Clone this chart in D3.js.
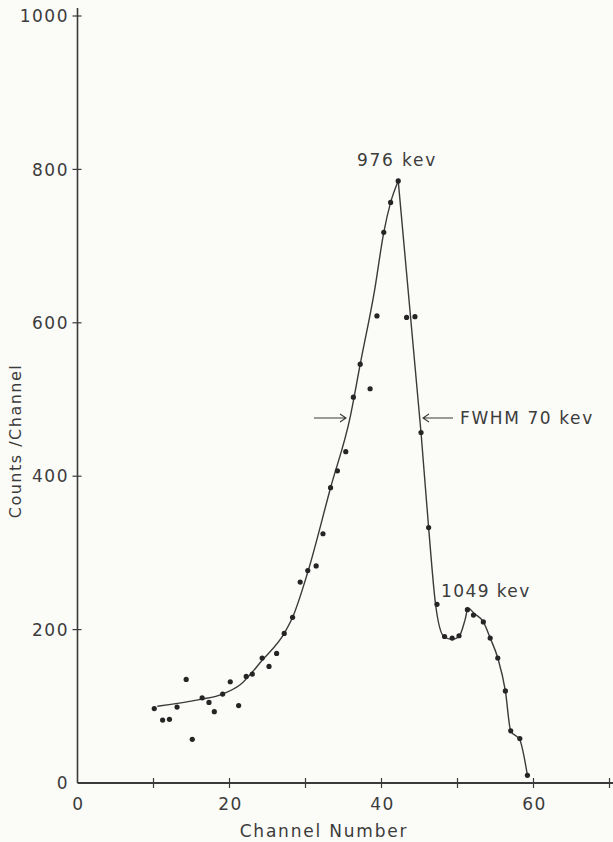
<!DOCTYPE html>
<html>
<head>
<meta charset="utf-8">
<script src="https://d3js.org/d3.v7.min.js"></script>
<style>
body { margin: 0; background: #fbfbf8; }
svg text { font-family: "DejaVu Sans", sans-serif; fill: #3c3c3c; letter-spacing: 1.5px; }
</style>
</head>
<body>
<svg id="chart"></svg>
<script>
var channels = [10.1, 11.2, 12.1, 13.1, 14.3, 15.1, 16.4, 17.3, 18.0, 19.1,
                20.1, 21.2, 22.2, 23.0, 24.3, 25.2, 26.2, 27.2, 28.3, 29.3,
                30.3, 31.4, 32.3, 33.3, 34.2, 35.3, 36.3, 37.2, 38.5, 39.4,
                40.3, 41.2, 42.2, 43.3, 44.4, 45.2, 46.2, 47.3, 48.3, 49.3,
                50.2, 51.3, 52.1, 53.4, 54.3, 55.3, 56.3, 57.0, 58.2, 59.2];
var counts = [97, 82, 83, 99, 135, 57, 111, 105, 93, 116,
              132, 101, 139, 142, 163, 152, 169, 195, 216, 262,
              277, 283, 325, 385, 407, 432, 503, 546, 514, 609,
              718, 757, 785, 607, 608, 457, 333, 233, 191, 189,
              192, 226, 219, 210, 189, 163, 120, 68, 58, 10];

// hand-drawn curve, rising side up to the peak
var riseCh  = [10.5, 16.2, 19.1, 21.4, 24.3, 27.2, 28.3, 30.3, 33.3, 35.9, 37.2, 39.1, 40.3, 41.2, 42.2];
var riseVal = [100, 109, 116, 128, 160, 195, 216, 275, 385, 478, 546, 643, 718, 757, 785];
// falling side from the peak
var fallCh  = [42.2, 45.2, 46.2, 47.1, 48.2, 49.3, 50.2, 51.0, 51.4, 52.2, 53.4, 54.3, 55.3, 56.3, 57.0, 58.2, 59.2];
var fallVal = [785, 457, 333, 234, 191, 187, 191, 213, 228, 221, 210, 189, 163, 120, 68, 56, 10];

var xTicks = [10, 20, 30, 40, 50, 60, 70];
var xLabels = [0, 20, 40, 60];
var yTicks = [200, 400, 600, 800, 1000];
var yLabels = [0, 200, 400, 600, 800, 1000];

var width = 613, height = 842;

var svg = d3.select("#chart").attr("width", width).attr("height", height);

var x = d3.scaleLinear().domain([0, 70]).range([77.5, 609.5]);
var y = d3.scaleLinear().domain([0, 1000]).range([783, 16]);

var ink = "#3a3a3a";

// axes
svg.append("line")
    .attr("x1", x(0)).attr("x2", 613)
    .attr("y1", y(0)).attr("y2", y(0))
    .attr("stroke", ink).attr("stroke-width", 2.2);
svg.append("line")
    .attr("x1", x(0)).attr("x2", x(0))
    .attr("y1", y(0)).attr("y2", 8)
    .attr("stroke", ink).attr("stroke-width", 1.6);

svg.selectAll(".xt").data(xTicks).enter().append("line")
    .attr("x1", d => x(d)).attr("x2", d => x(d))
    .attr("y1", y(0) - 5).attr("y2", y(0) + 5)
    .attr("stroke", ink).attr("stroke-width", 1.2);
svg.selectAll(".yt").data(yTicks).enter().append("line")
    .attr("x1", x(0) - 5).attr("x2", x(0) + 4)
    .attr("y1", d => y(d)).attr("y2", d => y(d))
    .attr("stroke", ink).attr("stroke-width", 1.2);

svg.selectAll(".xl").data(xLabels).enter().append("text")
    .attr("x", d => x(d) + 1).attr("y", 810)
    .attr("text-anchor", "middle")
    .style("font-size", "17px")
    .text(d => d);
svg.selectAll(".yl").data(yLabels).enter().append("text")
    .attr("x", 69).attr("y", d => y(d))
    .attr("dy", "0.36em")
    .attr("text-anchor", "end")
    .style("font-size", "17px")
    .text(d => d);

// axis titles
svg.append("text")
    .attr("x", 324).attr("y", 837)
    .attr("text-anchor", "middle")
    .style("font-size", "17px")
    .style("letter-spacing", "1.8px")
    .text("Channel Number");
svg.append("text")
    .attr("transform", "translate(21,441) rotate(-90)")
    .attr("text-anchor", "middle")
    .style("font-size", "16px")
    .text("Counts /Channel");

// fitted curve
var line = d3.line()
    .x(d => x(d[0])).y(d => y(d[1]))
    .curve(d3.curveMonotoneX);

svg.append("path")
    .datum(d3.zip(riseCh, riseVal))
    .attr("d", line)
    .attr("fill", "none").attr("stroke", ink).attr("stroke-width", 1.4);
svg.append("path")
    .datum(d3.zip(fallCh, fallVal))
    .attr("d", line)
    .attr("fill", "none").attr("stroke", ink).attr("stroke-width", 1.4);

// measured points
svg.selectAll(".pt").data(d3.zip(channels, counts)).enter().append("circle")
    .attr("cx", d => x(d[0])).attr("cy", d => y(d[1]))
    .attr("r", 2.6)
    .attr("fill", "#252525");

// annotations
svg.append("text")
    .attr("x", 397).attr("y", 166)
    .attr("text-anchor", "middle")
    .style("font-size", "17px")
    .style("letter-spacing", "1.8px")
    .text("976 kev");
svg.append("text")
    .attr("x", 441).attr("y", 597)
    .style("font-size", "17px")
    .style("letter-spacing", "1.4px")
    .text("1049 kev");
svg.append("text")
    .attr("x", 460).attr("y", 424)
    .style("font-size", "17px")
    .style("letter-spacing", "1.6px")
    .text("FWHM 70 kev");

// FWHM arrows
var arrows = [[314, 346], [453, 423]];
arrows.forEach(function(a) {
    var yA = 418, dir = a[1] > a[0] ? 1 : -1;
    svg.append("path")
        .attr("d", "M" + a[0] + "," + yA + "H" + a[1] +
                   "M" + (a[1] - dir * 6) + "," + (yA - 4) + "L" + a[1] + "," + yA +
                   "L" + (a[1] - dir * 6) + "," + (yA + 4))
        .attr("fill", "none").attr("stroke", ink).attr("stroke-width", 1.1);
});
</script>
</body>
</html>
